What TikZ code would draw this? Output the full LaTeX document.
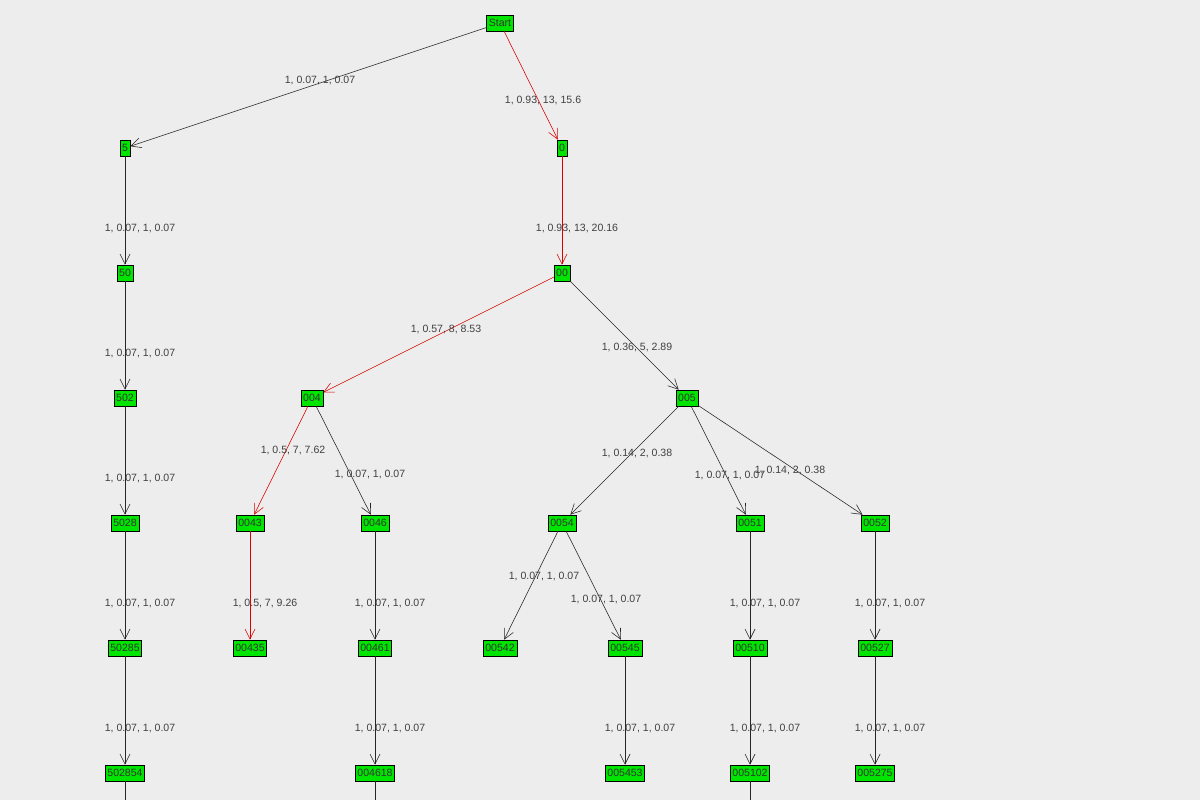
\documentclass[tikz,border=0pt]{standalone}
\usepackage{fontspec}
\setmainfont{Liberation Sans}
\usetikzlibrary{arrows.meta}

\begin{document}
\begin{tikzpicture}[
        x = 0.025cm, y = -0.025cm,
        state/.style = {
            draw,
            fill=green!90!black,
            font=\fontsize{7.5}{9}\selectfont,
            text=black!80,
            minimum height = 0.4cm,
            inner xsep = 1.5pt,
            inner ysep = 0pt
        },
        lbl/.style = {font=\fontsize{7.5}{9}\selectfont, text=black!75},
        edge/.style = {-{Straight Barb[length=2.5mm, width=2.5mm]}, black!85},
        hot/.style = {edge, red!85!black}
    ]
    \fill[black!7] (0,0) rectangle (1200,800);

    \node[state] (start) at (500,23) {Start};
    \node[state] (5) at (125,148) {5};
    \node[state] (0) at (562,148) {0};
    \node[state] (50) at (125,273) {50};
    \node[state] (00) at (562,273) {00};
    \node[state] (502) at (125,398) {502};
    \node[state] (004) at (312,398) {004};
    \node[state] (005) at (687,398) {005};
    \node[state] (5028) at (125,523) {5028};
    \node[state] (0043) at (250,523) {0043};
    \node[state] (0046) at (375,523) {0046};
    \node[state] (0054) at (562,523) {0054};
    \node[state] (0051) at (750,523) {0051};
    \node[state] (0052) at (875,523) {0052};
    \node[state] (50285) at (125,648) {50285};
    \node[state] (00435) at (250,648) {00435};
    \node[state] (00461) at (375,648) {00461};
    \node[state] (00542) at (500,648) {00542};
    \node[state] (00545) at (625,648) {00545};
    \node[state] (00510) at (750,648) {00510};
    \node[state] (00527) at (875,648) {00527};
    \node[state] (502854) at (125,773) {502854};
    \node[state] (004618) at (375,773) {004618};
    \node[state] (005453) at (625,773) {005453};
    \node[state] (005102) at (750,773) {005102};
    \node[state] (005275) at (875,773) {005275};
    \coordinate (out1) at (125,800);
    \coordinate (out2) at (375,800);
    \coordinate (out3) at (750,800);

    \draw[edge] (start) -- (5);
    \draw[hot] (start) -- (0);
    \draw[edge] (5) -- (50);
    \draw[hot] (0) -- (00);
    \draw[edge] (50) -- (502);
    \draw[hot] (00) -- (004);
    \draw[edge] (00) -- (005);
    \draw[edge] (502) -- (5028);
    \draw[hot] (004) -- (0043);
    \draw[edge] (004) -- (0046);
    \draw[edge] (005) -- (0054);
    \draw[edge] (005) -- (0051);
    \draw[edge] (005) -- (0052);
    \draw[edge] (5028) -- (50285);
    \draw[hot] (0043) -- (00435);
    \draw[edge] (0046) -- (00461);
    \draw[edge] (0054) -- (00542);
    \draw[edge] (0054) -- (00545);
    \draw[edge] (0051) -- (00510);
    \draw[edge] (0052) -- (00527);
    \draw[edge] (50285) -- (502854);
    \draw[edge] (00461) -- (004618);
    \draw[edge] (00545) -- (005453);
    \draw[edge] (00510) -- (005102);
    \draw[edge] (00527) -- (005275);
    \draw[black!85] (502854) -- (out1);
    \draw[black!85] (004618) -- (out2);
    \draw[black!85] (005102) -- (out3);

    % edge labels
    \node[lbl] (l1) at (320,80) {1, 0.07, 1, 0.07};
    \node[lbl] (l2) at (543,100) {1, 0.93, 13, 15.6};
    \node[lbl] (l3) at (140,228) {1, 0.07, 1, 0.07};
    \node[lbl] (l4) at (577,228) {1, 0.93, 13, 20.16};
    \node[lbl] (l5) at (140,353) {1, 0.07, 1, 0.07};
    \node[lbl] (l6) at (446,329) {1, 0.57, 8, 8.53};
    \node[lbl] (l7) at (637,347) {1, 0.36, 5, 2.89};
    \node[lbl] (l8) at (140,478) {1, 0.07, 1, 0.07};
    \node[lbl] (l9) at (293,450) {1, 0.5, 7, 7.62};
    \node[lbl] (l10) at (370,474) {1, 0.07, 1, 0.07};
    \node[lbl] (l11) at (637,453) {1, 0.14, 2, 0.38};
    \node[lbl] (l12) at (730,475) {1, 0.07, 1, 0.07};
    \node[lbl] (l13) at (790,470) {1, 0.14, 2, 0.38};
    \node[lbl] (l14) at (140,603) {1, 0.07, 1, 0.07};
    \node[lbl] (l15) at (265,603) {1, 0.5, 7, 9.26};
    \node[lbl] (l16) at (390,603) {1, 0.07, 1, 0.07};
    \node[lbl] (l17) at (544,576) {1, 0.07, 1, 0.07};
    \node[lbl] (l18) at (606,599) {1, 0.07, 1, 0.07};
    \node[lbl] (l19) at (765,603) {1, 0.07, 1, 0.07};
    \node[lbl] (l20) at (890,603) {1, 0.07, 1, 0.07};
    \node[lbl] (l21) at (140,728) {1, 0.07, 1, 0.07};
    \node[lbl] (l22) at (390,728) {1, 0.07, 1, 0.07};
    \node[lbl] (l23) at (640,728) {1, 0.07, 1, 0.07};
    \node[lbl] (l24) at (765,728) {1, 0.07, 1, 0.07};
    \node[lbl] (l25) at (890,728) {1, 0.07, 1, 0.07};

    \useasboundingbox (0,0) rectangle (1200,800);
\end{tikzpicture}
\end{document}
